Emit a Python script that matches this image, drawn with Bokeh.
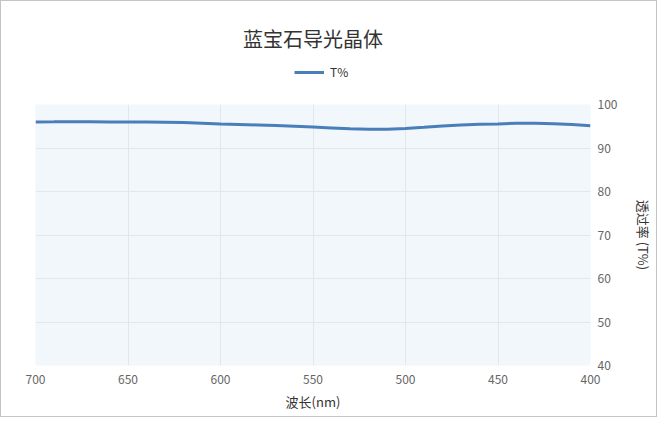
from bokeh.plotting import figure
from bokeh.layouts import column
from bokeh.models import Range1d, FixedTicker, Legend, LegendItem, ColumnDataSource
from bokeh.embed import file_html
from bokeh.resources import INLINE

title_text = "蓝宝石导光晶体"
x_label = "波长(nm)"
y_label = "透过率 (T%)"
series_name = "T%"

wavelength = [400, 410, 420, 430, 440, 450, 460, 470, 480, 490, 500, 510, 520, 530, 540,
              550, 560, 570, 580, 590, 600, 610, 620, 630, 640, 650, 660, 670, 680, 690, 700]
transmittance = [95.1, 95.4, 95.6, 95.7, 95.7, 95.5, 95.45, 95.3, 95.05, 94.75, 94.5, 94.3, 94.3, 94.4, 94.6,
                 94.8, 95.0, 95.15, 95.3, 95.4, 95.5, 95.7, 95.85, 95.93, 95.98, 96.0, 96.0, 96.03, 96.05, 96.02, 96.0]

x_ticks = [400, 450, 500, 550, 600, 650, 700]
y_ticks = [40, 50, 60, 70, 80, 90, 100]

FONT = "Noto Sans CJK SC"
LINE_COLOR = "#4a7ebb"

src = ColumnDataSource(dict(x=wavelength, y=transmittance))

# ---- header: title + legend ----
header = figure(width=655, height=90, output_backend="svg", toolbar_location=None,
                x_axis_type=None, y_axis_type=None,
                x_range=Range1d(0, 1), y_range=Range1d(0, 1),
                min_border_left=0, min_border_right=0, min_border_top=51, min_border_bottom=0)
header.outline_line_color = None
header.background_fill_color = "white"
header.border_fill_color = "white"
header.title.text = title_text
header.title.align = "center"
header.title.text_font = FONT
header.title.text_font_size = "20px"
header.title.text_font_style = "normal"
header.title.text_color = "#333333"
header.title.standoff = 0
header.title.offset = 0

# legend swatch renderer (its data lies outside this header's ranges, so only the swatch shows)
legend_r = header.line("x", "y", source=src, line_color=LINE_COLOR, line_width=3)
legend = Legend(items=[LegendItem(label=series_name, renderers=[legend_r])],
                location=(259, 11), orientation="horizontal",
                border_line_color=None, background_fill_alpha=0,
                padding=0, margin=0, glyph_width=30, glyph_height=16, label_height=16,
                label_standoff=6, label_text_font=FONT, label_text_font_size="12px",
                label_text_color="#333333")
header.add_layout(legend)

# ---- main chart ----
p = figure(width=655, height=325, output_backend="svg", toolbar_location=None,
           x_range=Range1d(700, 400), y_range=Range1d(40, 100),
           y_axis_location="right",
           min_border_left=34, min_border_right=63, min_border_top=13, min_border_bottom=51)

p.background_fill_color = "#f2f7fb"
p.border_fill_color = "white"
p.outline_line_color = None

r = p.line("x", "y", source=src, line_color=LINE_COLOR, line_width=3)

for ax in (p.xaxis[0], p.yaxis[0]):
    ax.axis_line_color = None
    ax.major_tick_line_color = None
    ax.minor_tick_line_color = None
    ax.major_tick_out = 0
    ax.major_tick_in = 0
    ax.minor_tick_out = 0
    ax.minor_tick_in = 0
    ax.major_label_text_font = FONT
    ax.major_label_text_font_size = "12px"
    ax.major_label_text_color = "#666666"
    ax.axis_label_text_font = FONT
    ax.axis_label_text_font_size = "13px"
    ax.axis_label_text_font_style = "normal"
    ax.axis_label_text_color = "#333333"

p.xaxis[0].ticker = FixedTicker(ticks=x_ticks)
p.yaxis[0].ticker = FixedTicker(ticks=y_ticks)
p.xaxis[0].axis_label = x_label
p.yaxis[0].axis_label = y_label
p.xaxis[0].major_label_standoff = 9
p.xaxis[0].axis_label_standoff = 5
p.yaxis[0].major_label_standoff = 7
p.yaxis[0].axis_label_standoff = 14

p.xgrid.grid_line_color = "#e3e6ea"
p.ygrid.grid_line_color = "#e3e6ea"
p.xgrid.ticker = FixedTicker(ticks=x_ticks)
p.ygrid.ticker = FixedTicker(ticks=y_ticks)

page = column(header, p, spacing=0)
page.styles = {"border": "1px solid #c4c4c4"}

open("out.html", "w").write(file_html(page, INLINE))
